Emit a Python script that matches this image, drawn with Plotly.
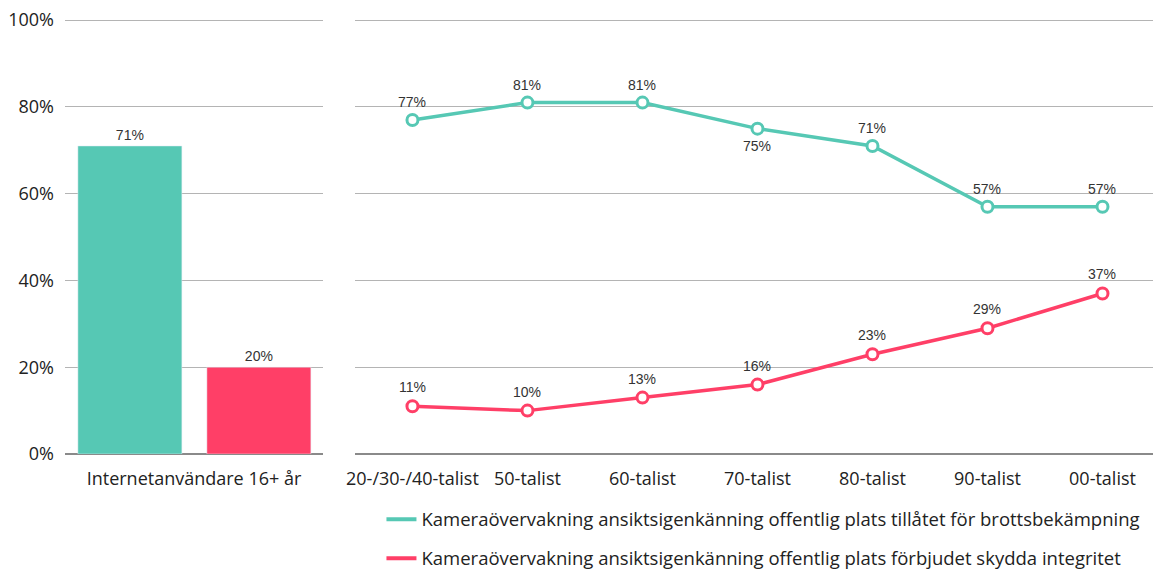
import plotly.graph_objects as go

GREEN = '#56c8b4'
RED = '#ff3f67'

bar_category = ['Internetanvändare 16+ år']
bar_allowed = [71]
bar_forbidden = [20]

generations = ['20-/30-/40-talist', '50-talist', '60-talist', '70-talist',
               '80-talist', '90-talist', '00-talist']
allowed = [77, 81, 81, 75, 71, 57, 57]
forbidden = [11, 10, 13, 16, 23, 29, 37]

y_ticks = [0, 20, 40, 60, 80, 100]

name_allowed = 'Kameraövervakning ansiktsigenkänning offentlig plats tillåtet för brottsbekämpning'
name_forbidden = 'Kameraövervakning ansiktsigenkänning offentlig plats förbjudet skydda integritet'

label_font = dict(family='Liberation Sans, Arial, sans-serif', size=14, color='#333333')
axis_font = dict(family='Open Sans, sans-serif', size=18, color='#222222')

fig = go.Figure()

# vänster panel: staplar för alla internetanvändare
fig.add_trace(go.Bar(
    x=bar_category, y=bar_allowed, marker_color=GREEN, width=0.403, offset=-0.45,
    text=[f'{v}%' for v in bar_allowed], textposition='outside', textfont=label_font,
    cliponaxis=False, showlegend=False, xaxis='x', yaxis='y'))
fig.add_trace(go.Bar(
    x=bar_category, y=bar_forbidden, marker_color=RED, width=0.403, offset=0.05,
    text=[f'{v}%' for v in bar_forbidden], textposition='outside', textfont=label_font,
    cliponaxis=False, showlegend=False, xaxis='x', yaxis='y'))

# höger panel: linjer per generation
marker_style = lambda c: dict(symbol='circle', size=11, color='white', line=dict(color=c, width=3))
fig.add_trace(go.Scatter(
    x=generations, y=allowed, mode='lines+markers',
    line=dict(color=GREEN, width=3.5), marker=marker_style(GREEN),
    cliponaxis=False, showlegend=False, xaxis='x2', yaxis='y2'))
fig.add_trace(go.Scatter(
    x=generations, y=forbidden, mode='lines+markers',
    line=dict(color=RED, width=3.5), marker=marker_style(RED),
    cliponaxis=False, showlegend=False, xaxis='x2', yaxis='y2'))

# dataetiketter ovanför/under punkterna
below_allowed = [False, False, False, True, False, False, False]
for g, v, below in zip(generations, allowed, below_allowed):
    fig.add_annotation(x=g, y=v, xref='x2', yref='y2', text=f'{v}%', showarrow=False,
                       yshift=-17 if below else 18, font=label_font)
for g, v in zip(generations, forbidden):
    fig.add_annotation(x=g, y=v, xref='x2', yref='y2', text=f'{v}%', showarrow=False,
                       yshift=19, font=label_font)

# legendposter med bara linje (utan markör)
for name, color, group in [(name_allowed, GREEN, 'a'), (name_forbidden, RED, 'b')]:
    fig.add_trace(go.Scatter(
        x=[None], y=[None], mode='lines', name=name, line=dict(color=color, width=4),
        legendgroup=group, xaxis='x2', yaxis='y2'))

grid = dict(showgrid=True, gridcolor='#b4b4b4', gridwidth=1, zeroline=True,
            zerolinecolor='#8a8a8a', zerolinewidth=1.5, range=[0, 100.5],
            tickvals=y_ticks)

# sidan har 8 px marginal i body, därför lite mindre figur
fig.update_layout(
    width=1153, height=565,
    margin=dict(l=57, r=1, t=10, b=119, autoexpand=False),
    plot_bgcolor='white', paper_bgcolor='white',
    barmode='overlay',
    font=axis_font,
    xaxis=dict(domain=[0, 0.2356], showgrid=False, ticks='', tickfont=axis_font,
               anchor='y', ticklabelstandoff=12),
    xaxis2=dict(domain=[0.2648, 1], showgrid=False, ticks='', tickfont=axis_font,
                anchor='y2', range=[-0.5, 6.5], ticklabelstandoff=12),
    yaxis=dict(**grid, ticktext=[f'{v}%' for v in y_ticks], tickfont=axis_font,
               anchor='x', ticks='', ticklabelstandoff=10, ticklabeloverflow='allow'),
    yaxis2=dict(**grid, showticklabels=False, anchor='x2', matches='y'),
    legend=dict(x=0.289, y=-0.107, xanchor='left', yanchor='top', orientation='v',
                font=dict(family='Open Sans, sans-serif', size=18.5, color='#222222'),
                tracegroupgap=12, itemwidth=30),
    showlegend=True,
)

fig.write_html('out.html')
